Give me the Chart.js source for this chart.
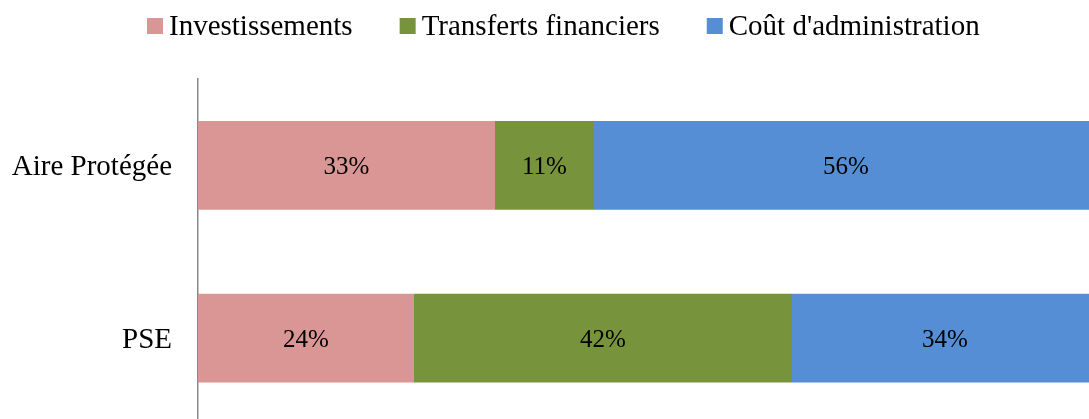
<!DOCTYPE html>
<html>
<head>
<meta charset="utf-8">
<script src="https://cdn.jsdelivr.net/npm/chart.js@4/dist/chart.umd.min.js"></script>
<style>
  html, body { margin: 0; padding: 0; overflow: hidden; background: #fff; }
  #wrap { position: relative; width: 1100px; height: 468px; }
</style>
</head>
<body>
<div id="wrap"><canvas id="c"></canvas></div>
<script>
const categories = ['Aire Protégée', 'PSE'];
const seriesNames = ['Investissements', 'Transferts financiers', "Coût d'administration"];
const investissements = [33, 24];
const transferts = [11, 42];
const coutAdministration = [56, 34];
const seriesColors = ['#D99694', '#77933C', '#558ED5'];

const FONT = "'Liberation Serif', 'Times New Roman', serif";

const legendPlugin = {
  id: 'customLegend',
  afterDraw(chart) {
    const ctx = chart.ctx;
    ctx.save();
    ctx.font = '29px ' + FONT;
    ctx.textBaseline = 'middle';
    ctx.textAlign = 'left';
    let x = 147;
    const boxY = 18, box = 16, midY = 26;
    chart.data.datasets.forEach(ds => {
      ctx.fillStyle = ds.backgroundColor;
      ctx.fillRect(x, boxY, box, box);
      ctx.fillStyle = '#000';
      const tx = x + box + 6;
      ctx.fillText(ds.label, tx, midY + 1);
      x = tx + ctx.measureText(ds.label).width + 47;
    });
    ctx.restore();
  }
};

const dataLabelPlugin = {
  id: 'barLabels',
  afterDatasetsDraw(chart) {
    const ctx = chart.ctx;
    ctx.save();
    ctx.font = '25px ' + FONT;
    ctx.fillStyle = '#000';
    ctx.textAlign = 'center';
    ctx.textBaseline = 'middle';
    chart.data.datasets.forEach((ds, di) => {
      chart.getDatasetMeta(di).data.forEach((el, i) => {
        const p = el.getCenterPoint();
        ctx.fillText(ds.data[i] + '%', p.x, p.y + 2);
      });
    });
    ctx.restore();
  }
};

new Chart(document.getElementById('c'), {
  type: 'bar',
  data: {
    labels: categories,
    datasets: [
      { label: seriesNames[0], data: investissements, backgroundColor: seriesColors[0] },
      { label: seriesNames[1], data: transferts, backgroundColor: seriesColors[1] },
      { label: seriesNames[2], data: coutAdministration, backgroundColor: seriesColors[2] }
    ]
  },
  options: {
    indexAxis: 'y',
    responsive: true,
    maintainAspectRatio: false,
    animation: false,
    devicePixelRatio: 1,
    layout: { padding: { top: 79, bottom: 0, left: 0, right: 2 } },
    datasets: { bar: { categoryPercentage: 1, barPercentage: 0.514, borderWidth: 0 } },
    plugins: { legend: { display: false }, tooltip: { enabled: false } },
    scales: {
      x: { stacked: true, min: 0, max: 100, display: false },
      y: {
        stacked: true,
        grid: { display: false, drawTicks: false },
        border: { display: true, color: '#888888', width: 1.5 },
        ticks: { color: '#000', font: { family: FONT, size: 29 }, padding: 26, labelOffset: 2 },
        afterFit(scale) { scale.width = 198; }
      }
    }
  },
  plugins: [legendPlugin, dataLabelPlugin]
});
</script>
</body>
</html>
